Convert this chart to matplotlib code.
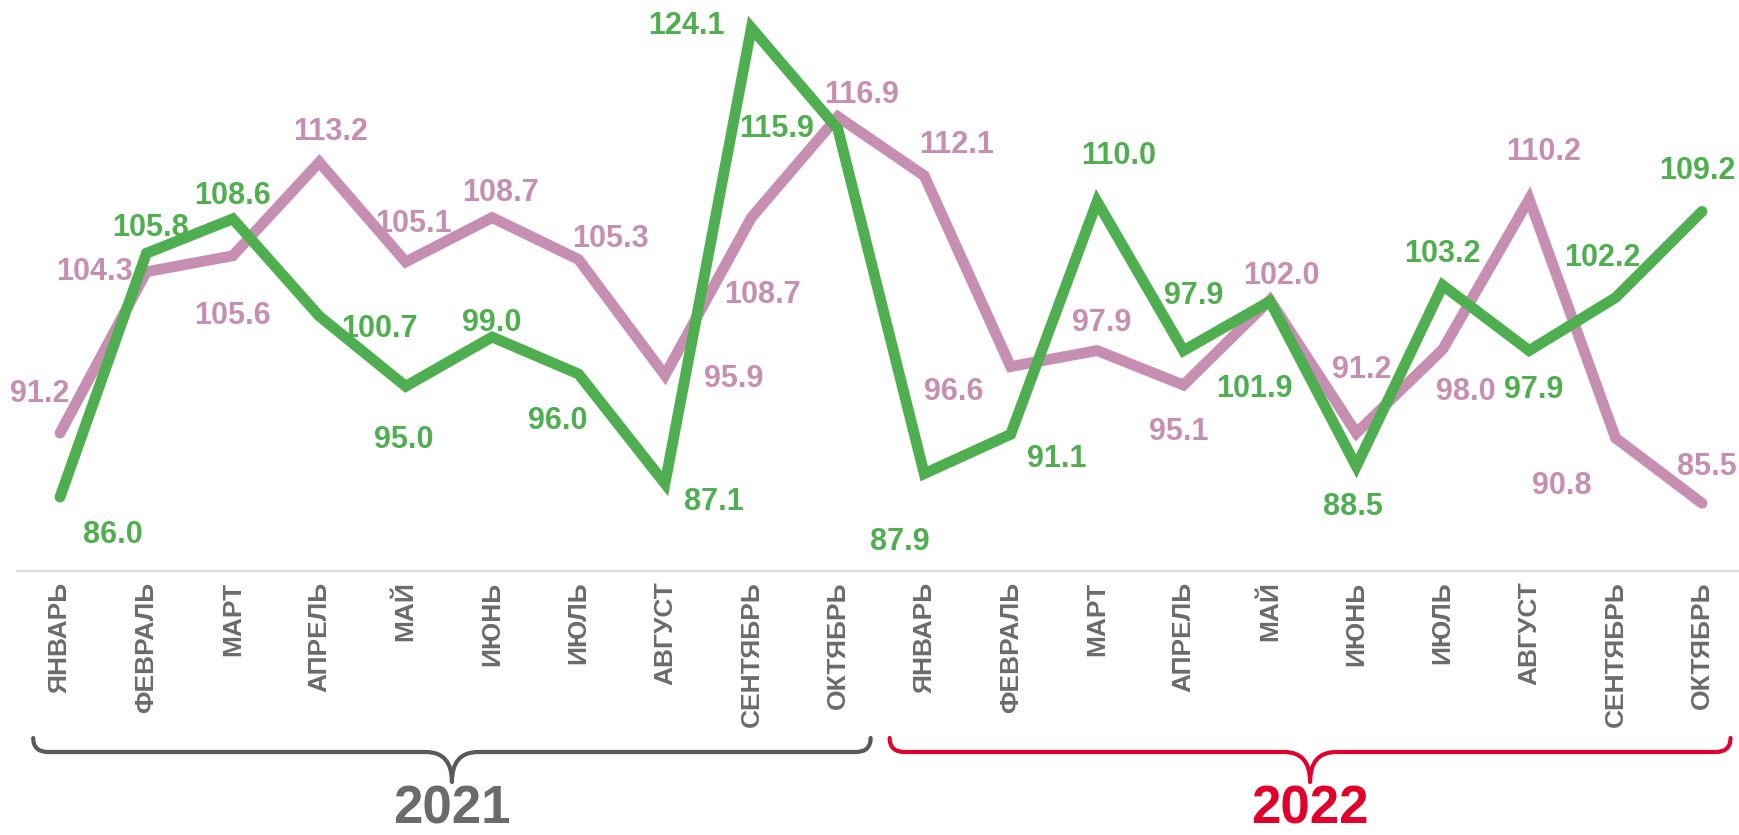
import matplotlib
matplotlib.use("Agg")
import matplotlib.pyplot as plt
from matplotlib.path import Path
from matplotlib.patches import PathPatch
from matplotlib.transforms import IdentityTransform

# ---------------- data ----------------
months = ["ЯНВАРЬ", "ФЕВРАЛЬ", "МАРТ", "АПРЕЛЬ", "МАЙ", "ИЮНЬ", "ИЮЛЬ",
          "АВГУСТ", "СЕНТЯБРЬ", "ОКТЯБРЬ"]
years = ["2021", "2022"]
tick_labels = months + months

pink_values = [91.2, 104.3, 105.6, 113.2, 105.1, 108.7, 105.3, 95.9, 108.7, 116.9,
               112.1, 96.6, 97.9, 95.1, 102.0, 91.2, 98.0, 110.2, 90.8, 85.5]
green_values = [86.0, 105.8, 108.6, 100.7, 95.0, 99.0, 96.0, 87.1, 124.1, 115.9,
                87.9, 91.1, 110.0, 97.9, 101.9, 88.5, 103.2, 97.9, 102.2, 109.2]

# label offsets in pixels (dx right, dy down) relative to each point
pink_offsets = [(-20, -39), (-52, 0), (0, 60), (11, -30), (8, -38), (8, -25),
                (32, -20), (69, 4), (11, 77), (24, -22), (32, -31), (-57, 25),
                (5, -28), (-5, 47), (11, -24), (5, -63), (23, 43), (14, -47),
                (-54, 48), (5, -36)]
green_offsets = [(53, 38), (4, -25), (0, -23), (60, 13), (-2, 54), (0, -14),
                 (-21, 47), (49, 18), (-65, -2), (-61, 0), (-24, 68), (46, 25),
                 (22, -46), (10, -55), (-16, 88), (-3, 41), (0, -31), (5, 39),
                 (-13, -40), (-5, -40)]

PINK = "#C68FB2"
GREEN = "#4FAF50"
GRAY_TXT = "#6B6B6B"
BRACE_GRAY = "#595959"
RED = "#E0002B"

W, H = 1739, 835
fig = plt.figure(figsize=(W / 100, H / 100), dpi=100)
fig.patch.set_facecolor("white")

ax_left = 17 / W
ax_bottom = (H - 571) / H
ax = fig.add_axes([ax_left, ax_bottom, 1 - ax_left, 571 / H])
ax.set_facecolor("none")

x = list(range(len(pink_values)))
ax.plot(x, pink_values, color=PINK, lw=7.8, solid_capstyle="round",
        solid_joinstyle="miter", clip_on=False, zorder=2)
ax.plot(x, green_values, color=GREEN, lw=7.8, solid_capstyle="round",
        solid_joinstyle="miter", clip_on=False, zorder=3)

ax.set_xlim(-0.4976, 19.428)
ax.set_ylim(80, 126.37)

lab_font = dict(family=["Liberation Sans", "DejaVu Sans"], fontweight="bold", fontsize=22)
for xi, v, (dx, dy) in zip(x, pink_values, pink_offsets):
    ax.annotate(f"{v:.1f}", (xi, v), xytext=(dx, -dy), textcoords="offset pixels",
                ha="center", va="center", color=PINK, zorder=5, annotation_clip=False, **lab_font)
for xi, v, (dx, dy) in zip(x, green_values, green_offsets):
    ax.annotate(f"{v:.1f}", (xi, v), xytext=(dx, -dy), textcoords="offset pixels",
                ha="center", va="center", color=GREEN, zorder=5, annotation_clip=False, **lab_font)

# axes styling
for s in ["top", "left", "right"]:
    ax.spines[s].set_visible(False)
ax.spines["bottom"].set_color("#DADADA")
ax.spines["bottom"].set_linewidth(1.6)
ax.set_yticks([])
ax.set_xticks(x)
ax.set_xticklabels(tick_labels, rotation=90, va="top", ha="center",
                   family=["Liberation Sans Narrow", "Liberation Sans", "DejaVu Sans"],
                   fontweight="bold", fontsize=19, color=GRAY_TXT)
ax.tick_params(axis="x", length=0, pad=7.5)

# braces and years (drawn in display pixels, derived from data positions)
fig.canvas.draw()


def xpix(xv):
    return ax.transData.transform((xv, 80))[0]


def brace(x0, x1, color):
    xc = (x0 + x1) / 2
    yl = H - 752
    ye = H - 738
    yt = H - 782
    r = 15
    c = 26
    verts = [(x0, ye), (x0, yl), (x0 + r, yl),
             (xc - c, yl), (xc, yl), (xc, yt),
             (xc, yl), (xc + c, yl),
             (x1 - r, yl), (x1, yl), (x1, ye)]
    codes = [Path.MOVETO, Path.CURVE3, Path.CURVE3,
             Path.LINETO, Path.CURVE3, Path.CURVE3,
             Path.CURVE3, Path.CURVE3,
             Path.LINETO, Path.CURVE3, Path.CURVE3]
    p = PathPatch(Path(verts, codes), transform=IdentityTransform(), fill=False,
                  edgecolor=color, lw=3.0, capstyle="round", joinstyle="round")
    fig.add_artist(p)
    return xc


groups = [(0, 9, -0.31, 0.38, BRACE_GRAY, GRAY_TXT), (10, 19, -0.40, 0.33, RED, RED)]
for (i0, i1, e0, e1, bcol, tcol), yr in zip(groups, years):
    x0 = xpix(i0 + e0)
    x1 = xpix(i1 + e1)
    xc = brace(x0, x1, bcol)
    fig.text(xc / W, 1 / H, yr, ha="center", va="bottom", color=tcol,
             family=["Liberation Sans Narrow", "Liberation Sans", "DejaVu Sans"],
             fontweight="bold", fontsize=38)

fig.savefig("out.png", dpi=100, facecolor="white")
